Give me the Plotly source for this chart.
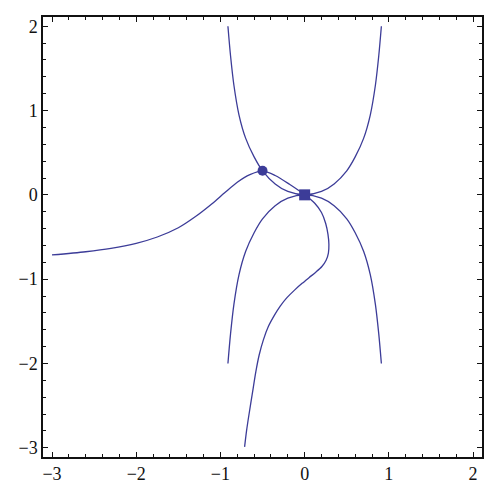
import plotly.graph_objects as go

# Curve A: left branch through the circle, square, then S-shaped descent
a_x = [-3.0, -2.6, -2.3, -2.0, -1.75, -1.5, -1.3, -1.1, -0.95, -0.8, -0.65, -0.5, -0.35, -0.18, 0.0,
       0.12, 0.2, 0.25, 0.277, 0.288, 0.282, 0.255, 0.205, 0.135, 0.055, -0.03, -0.12, -0.21, -0.29,
       -0.36, -0.43, -0.49, -0.54, -0.58, -0.62, -0.66, -0.69, -0.713]
a_y = [-0.713, -0.675, -0.635, -0.575, -0.50, -0.39, -0.26, -0.105, 0.025, 0.15, 0.24, 0.285, 0.23, 0.125, 0.0,
       -0.10, -0.21, -0.34, -0.47, -0.59, -0.69, -0.775, -0.85, -0.915, -0.98, -1.05, -1.13, -1.22, -1.32,
       -1.43, -1.56, -1.72, -1.90, -2.10, -2.35, -2.60, -2.80, -2.99]

# Curve B: U shape
b_x = [-0.911, -0.88, -0.84, -0.78, -0.7, -0.6, -0.5, -0.35, -0.2, 0.0, 0.2, 0.35, 0.5, 0.6, 0.7, 0.78, 0.84, 0.88, 0.911]
b_y = [2.0, 1.65, 1.3, 0.95, 0.67, 0.45, 0.285, 0.13, 0.04, 0.0, 0.04, 0.13, 0.285, 0.45, 0.67, 0.95, 1.3, 1.65, 2.0]

# Curve C: inverted U
c_x = [-0.911, -0.88, -0.84, -0.78, -0.7, -0.6, -0.5, -0.35, -0.2, 0.0, 0.2, 0.35, 0.5, 0.6, 0.7, 0.78, 0.84, 0.88, 0.911]
c_y = [-2.0, -1.65, -1.3, -0.95, -0.67, -0.45, -0.285, -0.13, -0.04, 0.0, -0.04, -0.13, -0.285, -0.45, -0.67, -0.95, -1.3, -1.65, -2.0]

circle_pt = ([-0.5], [0.285])
square_pt = ([0.0], [0.0])

tick_vals = [-3, -2, -1, 0, 1, 2]
tick_text = ["\u22123", "\u22122", "\u22121", "0", "1", "2"]

col = "#3c3c98"
fig = go.Figure()
for xs, ys in [(a_x, a_y), (b_x, b_y), (c_x, c_y)]:
    fig.add_trace(go.Scatter(x=xs, y=ys, mode="lines",
                             line=dict(color=col, width=1.3, shape="spline", smoothing=0.8),
                             showlegend=False, hoverinfo="skip"))
fig.add_trace(go.Scatter(x=circle_pt[0], y=circle_pt[1], mode="markers",
                         marker=dict(symbol="circle", size=10, color=col), showlegend=False))
fig.add_trace(go.Scatter(x=square_pt[0], y=square_pt[1], mode="markers",
                         marker=dict(symbol="square", size=11, color=col), showlegend=False))

axis_common = dict(
    showgrid=False, zeroline=False, showline=True, linecolor="#111", linewidth=1.5,
    mirror="ticks", ticks="inside", ticklen=5, tickwidth=1.2, tickcolor="#111",
    tickvals=tick_vals, ticktext=tick_text, automargin=False,
    minor=dict(ticks="inside", dtick=0.2, tick0=0, ticklen=3, tickwidth=1, tickcolor="#111"),
    tickfont=dict(family="Liberation Serif", size=18, color="#111"),
)
fig.update_xaxes(range=[-3.107, 2.106], **axis_common)
fig.update_yaxes(range=[-3.11, 2.11], **axis_common)
fig.update_layout(width=492, height=490, margin=dict(l=35, r=18, t=9, b=41),
                  plot_bgcolor="white", paper_bgcolor="white")
fig.write_html("out.html")
